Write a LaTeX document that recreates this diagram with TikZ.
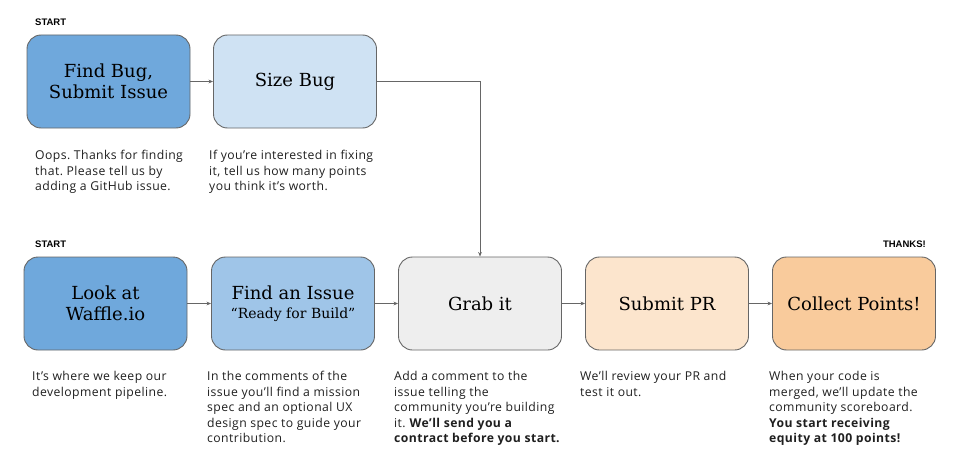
\documentclass[tikz,border=0pt]{standalone}
\usepackage{fontspec}
\setmainfont{Open Sans}[LetterSpace=3.5]
\newfontfamily\titlefont{DejaVu Serif}
\newfontfamily\tagfont{Liberation Sans}
\usetikzlibrary{arrows.meta, positioning}

\definecolor{blue_dark}{HTML}{6FA8DC}
\definecolor{blue_mid}{HTML}{9FC5E8}
\definecolor{blue_light}{HTML}{CFE2F3}
\definecolor{grey_light}{HTML}{EEEEEE}
\definecolor{orange_light}{HTML}{FCE5CD}
\definecolor{orange_mid}{HTML}{F9CB9C}
\definecolor{edge_grey}{HTML}{666666}

\begin{document}
\frenchspacing
\begin{tikzpicture}[
x=1pt, y=-1pt,
step_box/.style={draw=edge_grey, line width=0.9pt, rounded corners=14pt, minimum width=163pt, minimum height=93pt, align=center, font=\titlefont\fontsize{18}{21.5}\selectfont},
step_note/.style={anchor=north west, inner sep=0pt, align=left, text=black!88, font=\fontsize{12.2}{15.6}\selectfont},
step_tag/.style={inner sep=0pt, font=\tagfont\bfseries\fontsize{9.5}{10}\selectfont},
flow_arrow/.style={draw=edge_grey, line width=0.7pt, -{Stealth[length=1.6mm, width=1.3mm]}}
]
\useasboundingbox (0,0) rectangle (960,468);

% Draw top row
    \node[step_tag, anchor=west] (tag_top) at (35,22) {START};
    \node[step_box, fill=blue_dark] (find_bug) at (108.5,81.5) {Find Bug,\\Submit Issue};
    \node[step_box, fill=blue_light] (size_bug) at (295,81.5) {Size Bug};

% Draw bottom row
    \node[step_tag, anchor=west] (tag_bottom) at (35,244) {START};
    \node[step_tag, anchor=east] (tag_thanks) at (926,244) {THANKS!};
    \node[step_box, fill=blue_dark] (look_waffle) at (105.5,303.5) {Look at\\Waffle.io};
    \node[step_box, fill=blue_mid] (find_issue) at (293,303.5) {Find an Issue\\[-3pt]{\fontsize{14}{16}\selectfont “Ready for Build”}};
    \node[step_box, fill=grey_light] (grab_it) at (480,303.5) {Grab it};
    \node[step_box, fill=orange_light] (submit_pr) at (667,303.5) {Submit PR};
    \node[step_box, fill=orange_mid] (collect_points) at (854,303.5) {Collect Points!};

% Draw arrows
    \draw[flow_arrow] (find_bug) -- (size_bug);
    \draw[flow_arrow] (size_bug.east) -| (grab_it.north);
    \draw[flow_arrow] (look_waffle) -- (find_issue);
    \draw[flow_arrow] (find_issue) -- (grab_it);
    \draw[flow_arrow] (grab_it) -- (submit_pr);
    \draw[flow_arrow] (submit_pr) -- (collect_points);

% Draw notes
    \node[step_note] (note_find_bug) at (35,150) {Oops. Thanks for finding\\that. Please tell us by\\adding a GitHub issue.};
    \node[step_note] (note_size_bug) at (209,150) {If you’re interested in fixing\\it, tell us how many points\\you think it’s worth.};
    \node[step_note] (note_look_waffle) at (32,371) {It’s where we keep our\\development pipeline.};
    \node[step_note] (note_find_issue) at (207,371) {In the comments of the\\issue you’ll find a mission\\spec and an optional UX\\design spec to guide your\\contribution.};
    \node[step_note] (note_grab_it) at (394,371) {Add a comment to the\\issue telling the\\community you’re building\\it. \textbf{We’ll send you a}\\\textbf{contract before you start.}};
    \node[step_note] (note_submit_pr) at (580,371) {We’ll review your PR and\\test it out.};
    \node[step_note] (note_collect_points) at (769,371) {When your code is\\merged, we’ll update the\\community scoreboard.\\\textbf{You start receiving}\\\textbf{equity at 100 points!}};
\end{tikzpicture}
\end{document}
